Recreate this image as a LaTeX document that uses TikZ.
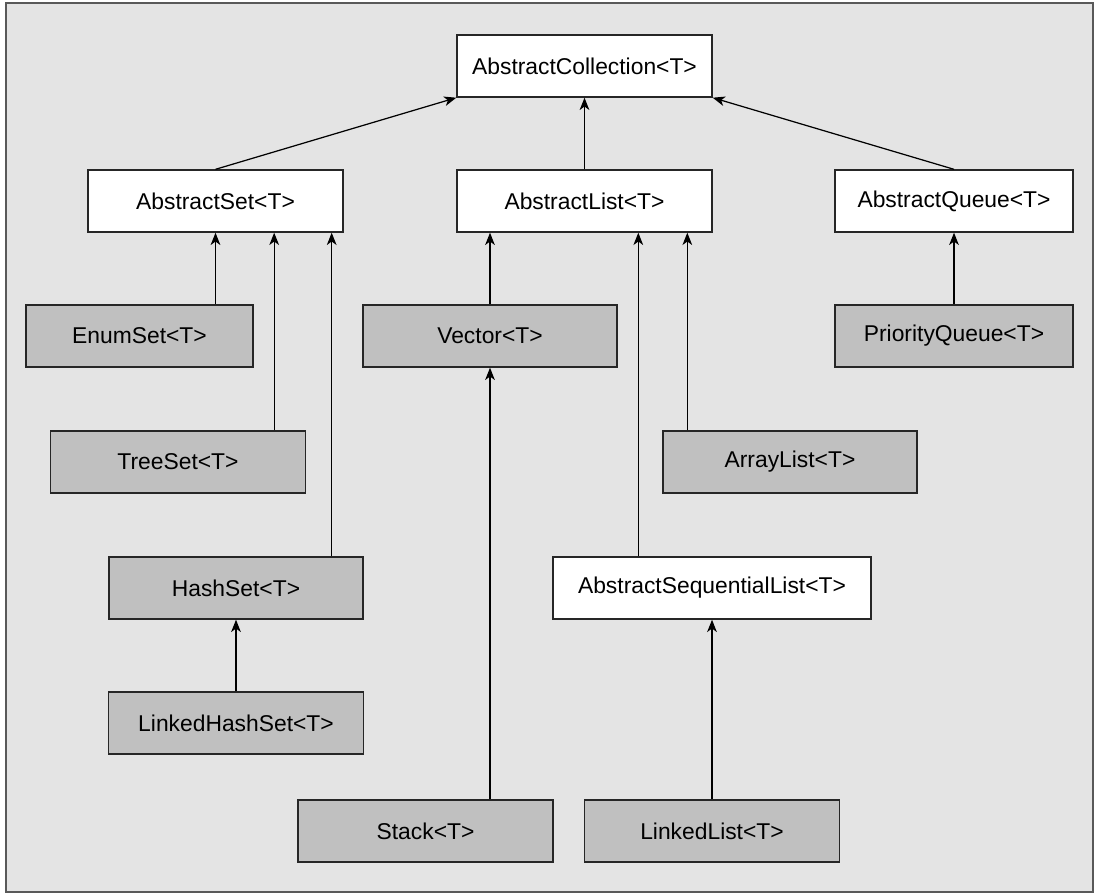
\documentclass[tikz,border=0pt]{standalone}
\usepackage{fontspec}
\setmainfont{Liberation Sans}
\usetikzlibrary{arrows.meta}

\definecolor{panelgray}{HTML}{E4E4E4}
\definecolor{classgray}{HTML}{C0C0C0}

\tikzset{
  absbox/.style={draw=black!85,line width=0.8pt,fill=white,minimum height=1.24cm,
    inner sep=0pt,font=\fontsize{13}{15}\selectfont},
  implbox/.style={absbox,fill=classgray},
  inh/.style={line width=0.7pt,-{Stealth[length=7pt,width=5.5pt,inset=2pt]}}
}

\begin{document}
\begin{tikzpicture}[x=0.02cm,y=-0.02cm]
\useasboundingbox (0,0) rectangle (1099,894);
\draw[fill=panelgray,draw=black!65,line width=1.1pt] (6,3) rectangle (1093,892);

\node[absbox,minimum width=5.1cm] (coll) at (584.5,66) {AbstractCollection<T>};

\node[absbox,minimum width=5.1cm] (aset) at (215.5,201) {AbstractSet<T>};
\node[absbox,minimum width=5.1cm] (alist) at (584.5,201) {AbstractList<T>};
\node[absbox,minimum width=4.76cm] (aqueue) at (954,201) {AbstractQueue<T>};

\node[implbox,minimum width=4.54cm] (enumset) at (139.5,336) {EnumSet<T>};
\node[implbox,minimum width=5.1cm] (treeset) at (178,462) {TreeSet<T>};
\node[implbox,minimum width=5.08cm] (hashset) at (236,588) {HashSet<T>};
\node[implbox,minimum width=5.1cm] (lhashset) at (236,723) {LinkedHashSet<T>};

\node[implbox,minimum width=5.08cm] (vector) at (490,336) {Vector<T>};
\node[implbox,minimum width=5.1cm] (stack) at (425.5,831) {Stack<T>};
\node[implbox,minimum width=5.08cm] (arraylist) at (790,462) {ArrayList<T>};
\node[absbox,minimum width=6.36cm] (aseqlist) at (712,588) {AbstractSequentialList<T>};
\node[implbox,minimum width=5.1cm] (linkedlist) at (712,831) {LinkedList<T>};

\node[implbox,minimum width=4.76cm] (pqueue) at (954,336) {PriorityQueue<T>};

% top level
\draw[inh] (aset.north) -- (coll.south west);
\draw[inh] (alist.north) -- (coll.south);
\draw[inh] (aqueue.north) -- (coll.south east);

% sets
\draw[inh] (enumset.north -| aset.south) -- (aset.south);
\draw[inh] ([xshift=-0.64cm]treeset.north east) -- ([xshift=-0.64cm]treeset.north east |- aset.south);
\draw[inh] ([xshift=-0.64cm]hashset.north east) -- ([xshift=-0.64cm]hashset.north east |- aset.south);
\draw[inh] (lhashset.north) -- (hashset.south);

% lists
\draw[inh] (vector.north) -- (vector.north |- alist.south);
\draw[inh] (stack.north -| vector.south) -- (vector.south);
\draw[inh] ([xshift=0.5cm]arraylist.north west) -- ([xshift=0.5cm]arraylist.north west |- alist.south);
\draw[inh] ([xshift=1.72cm]aseqlist.north west) -- ([xshift=1.72cm]aseqlist.north west |- alist.south);
\draw[inh] (linkedlist.north) -- (aseqlist.south);

% queues
\draw[inh] (pqueue.north) -- (aqueue.south);
\end{tikzpicture}
\end{document}
